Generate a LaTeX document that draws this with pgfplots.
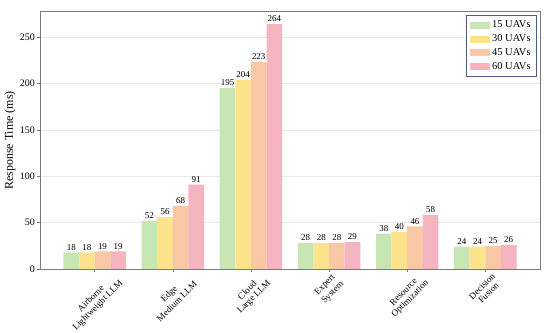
\documentclass[border=0pt]{standalone}
\usepackage{pgfplots}
\pgfplotsset{compat=1.18}
\usepackage{graphicx}
\usepackage{fontspec}
\setmainfont{Liberation Serif}
\definecolor{cgreen}{HTML}{C8E6B4}
\definecolor{cyellow}{HTML}{FDE38C}
\definecolor{corange}{HTML}{F8C8A4}
\definecolor{cpink}{HTML}{F4B4C0}
\definecolor{axgray}{HTML}{7A7A7A}
\definecolor{legframe}{HTML}{4F5B7C}
\newcommand{\xl}[2]{\rotatebox{45}{\shortstack[c]{#1\\#2}}}
\begin{document}
\begin{tikzpicture}
\begin{axis}[
  scale only axis,
  width=500bp, height=257bp,
  xmin=-0.7, xmax=5.7,
  ymin=0, ymax=277,
  ybar,
  bar width=15.6bp,
  xtick={0,1,2,3,4,5},
  xticklabels={
    {\xl{Airborne}{Lightweight LLM}},
    {\xl{Edge}{Medium LLM}},
    {\xl{Cloud}{Large LLM}},
    {\xl{Expert}{System}},
    {\xl{Resource}{Optimization}},
    {\xl{Decision}{Fusion}}},
  xticklabel style={anchor=north, inner sep=0.5bp, font=\fontsize{9.2}{10}\selectfont},
  ytick={0,50,100,150,200,250},
  yticklabel style={font=\fontsize{10}{11}\selectfont, inner sep=2bp},
  /pgf/number format/assume math mode=true,
  tick align=outside,
  major tick length=3bp,
  tick style={axgray, line width=0.6bp},
  xtick pos=bottom, ytick pos=left,
  axis line style={axgray, line width=1bp},
  ymajorgrids,
  grid style={gray!18, line width=0.5bp},
  ylabel={Response Time (ms)},
  ylabel style={font=\fontsize{12}{14}\selectfont, yshift=-1bp},
  nodes near coords,
  every node near coord/.append style={font=\fontsize{9}{10}\selectfont, black, inner sep=2bp},
  legend style={at={(rel axis cs:1,1)}, xshift=-3bp, yshift=-3bp, anchor=north east,
    draw=legframe, line width=0.8bp, fill=white, font=\fontsize{10.5}{12}\selectfont,
    inner xsep=4bp, inner ysep=3.5bp, row sep=1.5bp},
  legend cell align=left,
  legend image code/.code={\fill[#1] (0bp,-3.5bp) rectangle (20bp,3.5bp);},
]
\addplot[fill=cgreen, draw=none, bar shift=-23.4bp] coordinates {(0,18) (1,52) (2,195) (3,28) (4,38) (5,24)};
\addplot[fill=cyellow, draw=none, bar shift=-7.8bp] coordinates {(0,18) (1,56) (2,204) (3,28) (4,40) (5,24)};
\addplot[fill=corange, draw=none, bar shift=7.8bp] coordinates {(0,19) (1,68) (2,223) (3,28) (4,46) (5,25)};
\addplot[fill=cpink, draw=none, bar shift=23.4bp] coordinates {(0,19) (1,91) (2,264) (3,29) (4,58) (5,26)};
\legend{15 UAVs, 30 UAVs, 45 UAVs, 60 UAVs}
\end{axis}
\pgfresetboundingbox
\path[use as bounding box] (-40bp,-64bp) rectangle (510bp,269bp);
\end{tikzpicture}
\end{document}
